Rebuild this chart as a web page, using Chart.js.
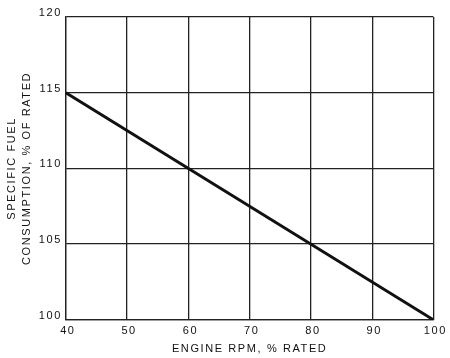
<!DOCTYPE html>
<html>
<head>
<meta charset="utf-8">
<script src="https://cdn.jsdelivr.net/npm/chart.js@4/dist/chart.umd.min.js"></script>
<style>
html,body{margin:0;padding:0;background:#fff;}
#wrap{width:450px;height:358px;}
</style>
</head>
<body>
<div id="wrap"><canvas id="c" width="450" height="358"></canvas></div>
<script>
const rpmPercent = [40, 100];
const sfcPercent = [115, 100];
const xTicks = [40, 50, 60, 70, 80, 90, 100];
const yTicks = [100, 105, 110, 115, 120];
const xTitle = "ENGINE RPM, % RATED";
const yTitle = ["SPECIFIC FUEL", "CONSUMPTION, % OF RATED"];

const pts = rpmPercent.map((x, i) => ({x: x, y: sfcPercent[i]}));
const fam = "'Liberation Sans', Arial, sans-serif";

const spacing = {
  id: 'spacing',
  beforeInit(c) { c.ctx.letterSpacing = '1.6px'; },
  beforeUpdate(c) { c.ctx.letterSpacing = '1.6px'; },
  beforeLayout(c) { c.ctx.letterSpacing = '1.6px'; },
  beforeDraw(c) { c.ctx.letterSpacing = '1.6px'; }
};

new Chart(document.getElementById('c'), {
  type: 'line',
  data: {
    datasets: [{
      data: pts,
      borderColor: '#111',
      borderWidth: 3,
      pointRadius: 0,
      tension: 0,
      fill: false
    }]
  },
  options: {
    responsive: false,
    animation: false,
    devicePixelRatio: 1,
    layout: {padding: {left: 5, right: 16, top: 17, bottom: 4}},
    plugins: {legend: {display: false}, tooltip: {enabled: false}},
    scales: {
      x: {
        type: 'linear',
        min: 40, max: 100,
        afterBuildTicks: s => { s.ticks = xTicks.map(v => ({value: v})); },
        grid: {color: '#222', lineWidth: 1.3, drawTicks: false},
        border: {color: '#222', width: 1.3},
        ticks: {color: '#111', font: {family: fam, size: 11}, padding: 5, labelOffset: 2},
        title: {display: true, text: xTitle, color: '#111', font: {family: fam, size: 11, lineHeight: 1.0}, padding: {top: 0, bottom: 0}}
      },
      y: {
        type: 'linear',
        min: 100, max: 120,
        afterBuildTicks: s => { s.ticks = yTicks.map(v => ({value: v})); },
        grid: {color: '#222', lineWidth: 1.3, drawTicks: false},
        border: {color: '#222', width: 1.3},
        ticks: {color: '#111', font: {family: fam, size: 11}, padding: 4, labelOffset: -4},
        title: {display: true, text: yTitle, color: '#111', font: {family: fam, size: 11, lineHeight: 1.35}, padding: {top: 0, bottom: 0}}
      }
    }
  },
  plugins: [spacing]
});
</script>
</body>
</html>
